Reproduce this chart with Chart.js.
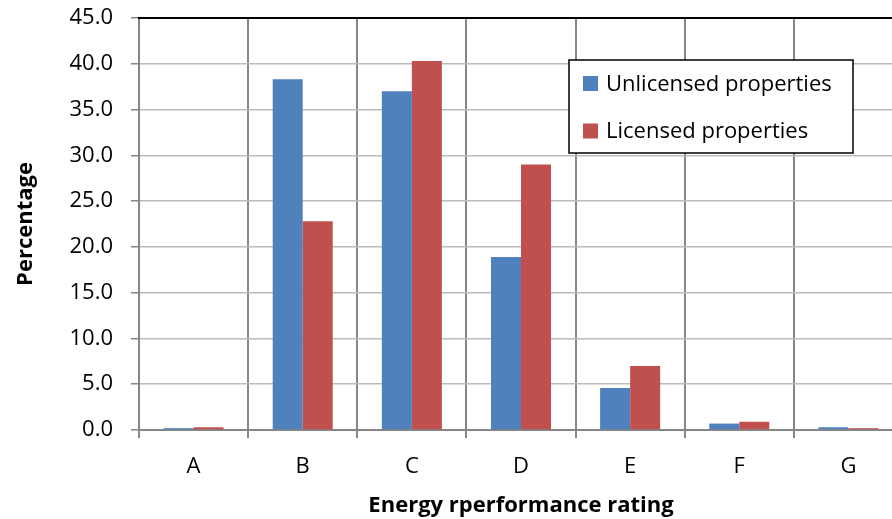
<!DOCTYPE html>
<html><head><meta charset="utf-8">
<script src="https://cdn.jsdelivr.net/npm/chart.js@4"></script>
<style>html,body{margin:0;padding:0;overflow:hidden;background:#fff;width:892px;height:519px}</style>
</head><body>
<canvas id="c" width="906" height="519" style="display:block;width:906px;height:519px"></canvas>
<script>
const categories = ['A', 'B', 'C', 'D', 'E', 'F', 'G'];
const unlicensed = [0.2, 38.3, 37.0, 18.9, 4.6, 0.7, 0.3];
const licensed = [0.3, 22.8, 40.3, 29.0, 7.0, 0.9, 0.2];
const seriesNames = ['Unlicensed properties', 'Licensed properties'];
const yMin = 0, yMax = 45, yStep = 5;
const xTitle = 'Energy rperformance rating';
const yTitle = 'Percentage';

const FONT = "'Open Sans', 'DejaVu Sans', sans-serif";

const frameLegend = {
  id: 'frameLegend',
  afterDraw(chart) {
    const ctx = chart.ctx, a = chart.chartArea;
    ctx.save();
    ctx.strokeStyle = '#000';
    ctx.lineWidth = 2;
    ctx.beginPath();
    ctx.moveTo(a.left - 1, a.top);
    ctx.lineTo(a.right + 2, a.top);
    ctx.stroke();
    const bx = 569, by = 60, bw = 284, bh = 93;
    ctx.fillStyle = '#fff';
    ctx.fillRect(bx, by, bw, bh);
    ctx.lineWidth = 1.5;
    ctx.strokeStyle = '#000';
    ctx.strokeRect(bx, by, bw, bh);
    ctx.font = "22px " + FONT;
    ctx.textBaseline = 'middle';
    ctx.textAlign = 'left';
    chart.data.datasets.forEach((ds, i) => {
      const cy = 83.5 + i * 47.5;
      ctx.fillStyle = ds.backgroundColor;
      ctx.fillRect(583, cy - 7.5, 15, 15);
      ctx.fillStyle = '#000';
      ctx.fillText(ds.label, 606, cy + 1);
    });
    ctx.restore();
  }
};

new Chart(document.getElementById('c'), {
  type: 'bar',
  data: {
    labels: categories,
    datasets: [
      { label: seriesNames[0], data: unlicensed, backgroundColor: '#4F81BD', categoryPercentage: 0.55, barPercentage: 1.0 },
      { label: seriesNames[1], data: licensed, backgroundColor: '#C0504D', categoryPercentage: 0.55, barPercentage: 1.0 }
    ]
  },
  options: {
    responsive: false,
    animation: false,
    layout: { padding: { top: 18, left: 0, right: 3, bottom: 0 } },
    plugins: { legend: { display: false }, tooltip: { enabled: false } },
    scales: {
      x: {
        offset: true,
        grid: { offset: true, color: '#868686', lineWidth: 2, tickLength: 8, tickColor: '#868686' },
        border: { color: '#868686', width: 2 },
        ticks: { color: '#000', font: { family: FONT, size: 22 }, padding: 16 },
        title: { display: true, text: xTitle, color: '#000', font: { family: FONT, size: 22, weight: 'bold' }, padding: { top: 0, bottom: 0 } },
        afterFit(s) { s.height = 89; s.paddingLeft = 0; s.paddingRight = 0; }
      },
      y: {
        min: yMin, max: yMax,
        ticks: { stepSize: yStep, color: '#000', font: { family: FONT, size: 22 }, padding: 18, callback: v => Number(v).toFixed(1) },
        grid: { color: '#BBBBBB', lineWidth: 1.5, tickLength: 8, tickColor: '#868686' },
        border: { color: '#868686', width: 2 },
        title: { display: true, text: yTitle, color: '#000', font: { family: FONT, size: 22, weight: 'bold' }, padding: { top: 13, bottom: 0 } },
        afterFit(s) { s.width = 139; s.paddingTop = 0; s.paddingBottom = 0; }
      }
    }
  },
  plugins: [frameLegend]
});
</script>
</body></html>
